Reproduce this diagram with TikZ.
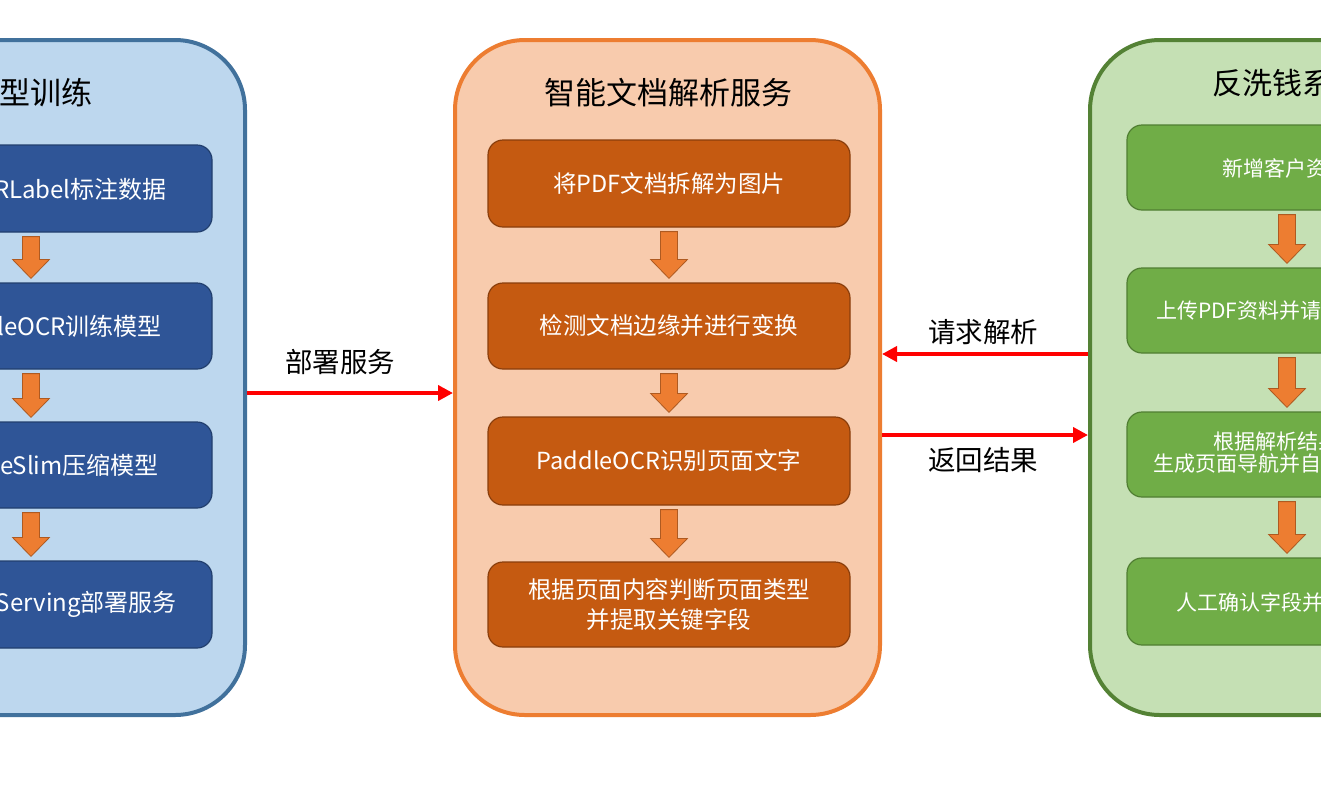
\documentclass[tikz,border=0pt]{standalone}
\usepackage{fontspec}
\setmainfont{Noto Sans CJK SC}
\usetikzlibrary{arrows.meta,calc}
\definecolor{lpf}{HTML}{BDD7EE}
\definecolor{lpd}{HTML}{41719C}
\definecolor{lbf}{HTML}{2F5597}
\definecolor{lbd}{HTML}{223F6E}
\definecolor{mpf}{HTML}{F8CBAD}
\definecolor{mpd}{HTML}{ED7D31}
\definecolor{mbf}{HTML}{C55A11}
\definecolor{mbd}{HTML}{8A3E0C}
\definecolor{rpf}{HTML}{C5E0B4}
\definecolor{rpd}{HTML}{548235}
\definecolor{rbf}{HTML}{70AD47}
\definecolor{rbd}{HTML}{507E32}
\definecolor{arrf}{HTML}{ED7D31}
\definecolor{arrd}{HTML}{AE5A21}
\begin{document}
\begin{tikzpicture}[x=1pt,y=-1pt,
  panel/.style={rectangle,rounded corners=70pt,line width=4pt,minimum width=425pt,minimum height=675pt,inner sep=0pt},
  box/.style={rectangle,rounded corners=15pt,line width=1.2pt,inner sep=0pt,align=center,text=white},
  title/.style={inner sep=0pt,font=\fontsize{31}{31}\selectfont},
  lbl/.style={inner sep=0pt,font=\fontsize{27.5}{27.5}\selectfont},
  ltxt/.style={inner sep=0pt,text=white,font=\fontsize{24}{24}\selectfont},
  mtxt/.style={font=\fontsize{23.5}{30}\selectfont},
  rtxt/.style={inner sep=0pt,text=white,font=\fontsize{21}{21}\selectfont},
  blockarrow/.style={fill=arrf,draw=arrd,line width=0.8pt,
    to path={let \p1=(\tikztostart), \p2=(\tikztotarget) in
      (\x1-8.5pt,\y1-4pt) -- (\x1+8.5pt,\y1-4pt) -- (\x1+8.5pt,\y2+23pt) -- (\x1+18.5pt,\y2+23pt)
      -- (\x1,\y2+4pt) -- (\x1-18.5pt,\y2+23pt) -- (\x1-8.5pt,\y2+23pt) -- cycle}},
  redarr/.style={draw=red,line width=4.5pt,-{Triangle[length=15pt,width=15pt]}}
]
\useasboundingbox (0,0) rectangle (1321,785);
\fill[white] (0,0) rectangle (1321,785);
\clip (0,0) rectangle (1321,785);

% ---------- left panel ----------
\node[panel,fill=lpf,draw=lpd] (lp) at (32.5,377.5) {};
\node[title] (lt) at (31,93) {模型训练};
\node[box,fill=lbf,draw=lbd,minimum width=362pt,minimum height=87pt] (l1) at (31,188.5) {};
\node[box,fill=lbf,draw=lbd,minimum width=362pt,minimum height=86pt] (l2) at (31,326) {};
\node[box,fill=lbf,draw=lbd,minimum width=362pt,minimum height=86pt] (l3) at (31,465) {};
\node[box,fill=lbf,draw=lbd,minimum width=362pt,minimum height=87pt] (l4) at (31,604.5) {};
\node[ltxt,anchor=east] (l1t) at (167,189) {PPOCRLabel标注数据};
\node[ltxt,anchor=east] (l2t) at (162,326) {PaddleOCR训练模型};
\node[ltxt,anchor=east] (l3t) at (159,465) {PaddleSlim压缩模型};
\node[ltxt,anchor=east] (l4t) at (177,604) {PaddleServing部署服务};
\path[blockarrow] (l1.south) to (l2.north);
\path[blockarrow] (l2.south) to (l3.north);
\path[blockarrow] (l3.south) to (l4.north);

% ---------- middle panel ----------
\node[panel,fill=mpf,draw=mpd] (mp) at (667.5,377.5) {};
\node[title] (mt) at (668,93) {智能文档解析服务};
\node[box,mtxt,fill=mbf,draw=mbd,minimum width=362pt,minimum height=87pt] (m1) at (669,183.5) {将PDF文档拆解为图片};
\node[box,mtxt,fill=mbf,draw=mbd,minimum width=362pt,minimum height=86pt] (m2) at (669,326) {检测文档边缘并进行变换};
\node[box,mtxt,fill=mbf,draw=mbd,minimum width=362pt,minimum height=88pt] (m3) at (669,461) {PaddleOCR识别页面文字};
\node[box,mtxt,fill=mbf,draw=mbd,minimum width=362pt,minimum height=85pt] (m4) at (669,604.5) {根据页面内容判断页面类型\\并提取关键字段};
\path[blockarrow] (m1.south) to (m2.north);
\path[blockarrow] (m2.south) to (m3.north);
\path[blockarrow] (m3.south) to (m4.north);

% ---------- right panel ----------
\node[panel,fill=rpf,draw=rpd,minimum width=394pt] (rp) at (1287,377.5) {};
\node[title,font=\fontsize{30}{30}\selectfont] (rt) at (1287,83) {反洗钱系统};
\node[box,fill=rbf,draw=rbd,minimum width=320pt,minimum height=85pt] (r1) at (1287,167.5) {};
\node[box,fill=rbf,draw=rbd,minimum width=320pt,minimum height=85pt] (r2) at (1287,310.5) {};
\node[box,fill=rbf,draw=rbd,minimum width=320pt,minimum height=85pt] (r3) at (1287,454.5) {};
\node[box,fill=rbf,draw=rbd,minimum width=320pt,minimum height=87pt] (r4) at (1287,601.5) {};
\node[rtxt,anchor=west] (r1t) at (1222,168) {新增客户资料};
\node[rtxt,anchor=west] (r2t) at (1156,311) {上传PDF资料并请求解析};
\node[rtxt,anchor=west] (r3a) at (1213,442) {根据解析结果，};
\node[rtxt,anchor=west] (r3b) at (1153,463) {生成页面导航并自动填充字段};
\node[rtxt,anchor=west] (r4t) at (1176,602) {人工确认字段并提交审核};
\path[blockarrow] (r1.south) to (r2.north);
\path[blockarrow] (r2.south) to (r3.north);
\path[blockarrow] (r3.south) to (r4.north);

% ---------- connectors ----------
\draw[redarr] (lp.east |- 0,393) -- (mp.west |- 0,393);
\draw[redarr] (rp.west |- 0,354) -- (mp.east |- 0,354);
\draw[redarr] (mp.east |- 0,435) -- (rp.west |- 0,435);
\node[lbl] (d1) at (340,362) {部署服务};
\node[lbl] (d2) at (983,332) {请求解析};
\node[lbl] (d3) at (983,460) {返回结果};
\end{tikzpicture}
\end{document}
